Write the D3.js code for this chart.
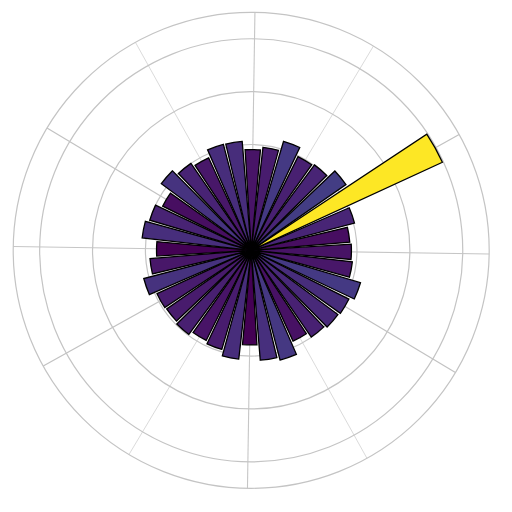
<!DOCTYPE html>
<html>
<head>
<meta charset="utf-8">
<script src="https://cdn.jsdelivr.net/npm/d3@7"></script>
<style>
  html, body { margin: 0; padding: 0; background: #ffffff; }
  svg { display: block; }
</style>
</head>
<body>
<svg id="chart" width="512" height="512"></svg>
<script>
// ---- data ----
const angles = [0, 10, 20, 30, 40, 50, 60, 70, 80, 90, 100, 110, 120, 130, 140, 150, 160, 170,
                180, 190, 200, 210, 220, 230, 240, 250, 260, 270, 280, 290, 300, 310, 320, 330, 340, 350];
const values = [3.79, 3.74, 4.04, 7.96, 4.36, 4.02, 3.96, 4.30, 3.92, 3.81, 4.13, 4.14, 3.85, 4.00, 4.23, 3.74, 4.00, 4.15,
                3.58, 3.84, 4.20, 3.92, 3.89, 3.96, 3.81, 3.91, 4.14, 3.58, 4.17, 4.29, 3.78, 3.99, 4.08, 4.13, 4.31, 3.85];
const radialTicks = [2, 4, 6, 8];
const radialMax = 9;
const angleTicks = [0, 30, 60, 90, 120, 150, 180, 210, 240, 270, 300, 330];

// ---- layout ----
const cx = 251.2, cy = 250.3, outerR = 238;
const rot = 0.9 * Math.PI / 180;      // slight clockwise rotation seen in the picture
const barFrac = 0.875;                // fraction of the 10° slot filled by each bar

const svg = d3.select("#chart");
const g = svg.append("g").attr("transform", `translate(${cx},${cy})`);

const r = d3.scaleLinear().domain([0, radialMax]).range([0, outerR]);
// math angle (deg, CCW from east) -> d3 angle (rad, CW from north)
const a = d3.scaleLinear().domain([0, 360]).range([Math.PI / 2 + rot, Math.PI / 2 + rot - 2 * Math.PI]);

const color = d3.scaleSequential(d3.interpolateViridis)
  .domain([d3.min(values), d3.max(values)]);

// ---- grid ----
const grid = g.append("g");
grid.selectAll("line.spoke")
  .data(angleTicks)
  .join("line")
  .attr("class", "spoke")
  .attr("x1", 0).attr("y1", 0)
  .attr("x2", d => r(radialMax) * Math.sin(a(d)))
  .attr("y2", d => -r(radialMax) * Math.cos(a(d)))
  .attr("stroke", d => (d % 90 === 0) ? "#c6c6c6" : ((d % 60 === 0) ? "#d6d6d6" : "#c2c2c2"))
  .attr("stroke-width", d => (d % 90 === 0) ? 1.1 : ((d % 60 === 0) ? 0.9 : 1.2));

grid.selectAll("circle.ring")
  .data(radialTicks.concat([radialMax]))
  .join("circle")
  .attr("class", "ring")
  .attr("r", d => r(d))
  .attr("fill", "none")
  .attr("stroke", "#c4c4c4")
  .attr("stroke-width", 1.2);

// ---- bars ----
const step = 360 / angles.length;
const arc = d3.arc()
  .innerRadius(0)
  .outerRadius(d => r(d.v))
  .startAngle(d => a(d.t + step * barFrac / 2))
  .endAngle(d => a(d.t - step * barFrac / 2));

const bars = angles.map((t, i) => ({ t, v: values[i] }));
g.append("g").selectAll("path")
  .data(bars)
  .join("path")
  .attr("d", arc)
  .attr("fill", d => color(d.v))
  .attr("stroke", "#000")
  .attr("stroke-width", 1.3)
  .attr("stroke-linejoin", "miter");
</script>
</body>
</html>
